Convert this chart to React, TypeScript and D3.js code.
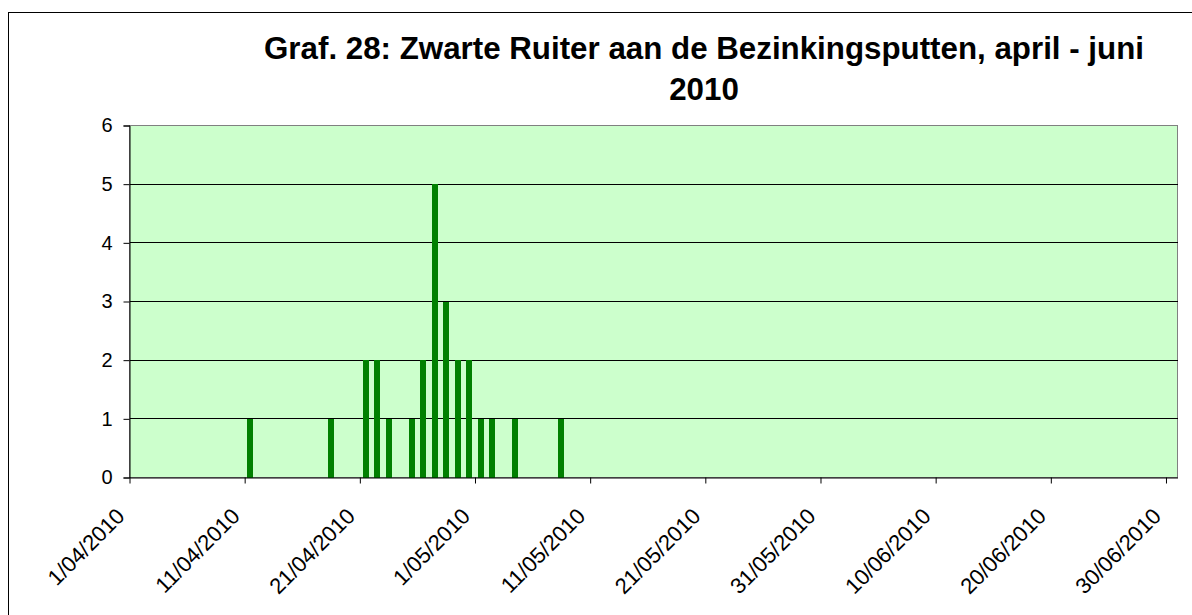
import React, { useEffect, useRef } from 'react';
import * as d3 from 'd3';

// observation dates and counts
const dates = [
    "2010-04-11", "2010-04-18", "2010-04-21", "2010-04-22", "2010-04-23",
    "2010-04-25", "2010-04-26", "2010-04-27", "2010-04-28", "2010-04-29",
    "2010-04-30", "2010-05-01", "2010-05-02", "2010-05-04", "2010-05-08"
];
const counts = [1, 1, 2, 2, 1, 1, 2, 5, 3, 2, 2, 1, 1, 1, 1];

const tickLabels = [
    "1/04/2010", "11/04/2010", "21/04/2010", "1/05/2010", "11/05/2010",
    "21/05/2010", "31/05/2010", "10/06/2010", "20/06/2010", "30/06/2010"
];
const yTicks = [0, 1, 2, 3, 4, 5, 6];

const titleLines = ["Graf. 28: Zwarte Ruiter aan de Bezinkingsputten, april - juni", "2010"];

const FONT = "'Liberation Sans', Arial, sans-serif";

export default function App() {
    const ref = useRef<SVGSVGElement>(null);

    useEffect(() => {
        const width = 1192, height = 615;
        const plot = { left: 129.5, right: 1177.5, top: 125.5, bottom: 477.5 };

        const svg = d3.select(ref.current);
        svg.selectAll("*").remove();

        const parseDay = d3.utcParse("%Y-%m-%d");
        const parseLabel = d3.utcParse("%d/%m/%Y");

        const x = d3.scaleUtc()
            .domain([Date.UTC(2010, 3, 1), Date.UTC(2010, 6, 1)])
            .range([plot.left, plot.right]);
        const y = d3.scaleLinear()
            .domain([0, 6])
            .range([plot.bottom, plot.top]);

        const dayW = x(Date.UTC(2010, 3, 2)) - x(Date.UTC(2010, 3, 1));
        const barW = 6;

        // chart area border
        svg.append("rect")
            .attr("x", 8.5).attr("y", 12.5)
            .attr("width", width + 100).attr("height", height + 100)
            .attr("fill", "white").attr("stroke", "black");

        // title
        svg.append("g").selectAll("text").data(titleLines).enter().append("text")
            .attr("x", 704)
            .attr("y", (d, i) => 59 + i * 41)
            .attr("text-anchor", "middle")
            .attr("font-family", FONT)
            .attr("font-weight", "bold")
            .attr("font-size", 31.3)
            .attr("fill", "black")
            .text(d => d);

        // plot area
        svg.append("rect")
            .attr("x", plot.left).attr("y", plot.top)
            .attr("width", plot.right - plot.left).attr("height", plot.bottom - plot.top)
            .attr("fill", "#CCFFCC").attr("stroke", "#808080");

        // gridlines
        svg.append("g").selectAll("line").data(yTicks.filter(v => v > 0 && v < 6)).enter().append("line")
            .attr("x1", plot.left).attr("x2", plot.right)
            .attr("y1", d => y(d)).attr("y2", d => y(d))
            .attr("stroke", "black").attr("shape-rendering", "crispEdges");

        // bars
        const data = dates.map((d, i) => ({ date: parseDay(d) as Date, value: counts[i] }));
        svg.append("g").selectAll("rect").data(data).enter().append("rect")
            .attr("x", d => x(d.date) + dayW / 2 - barW / 2)
            .attr("y", d => y(d.value))
            .attr("width", barW)
            .attr("height", d => y(0) - y(d.value))
            .attr("fill", "#008000")
            .attr("shape-rendering", "crispEdges");

        // y axis
        const gy = svg.append("g").attr("transform", `translate(${plot.left},0)`)
            .call(d3.axisLeft(y).tickValues(yTicks).tickSize(6).tickPadding(11).tickFormat(d3.format("d")));
        gy.select(".domain").attr("stroke", "black");
        gy.selectAll("line").attr("stroke", "black");
        gy.selectAll("text").attr("font-family", FONT).attr("font-size", 20).attr("fill", "black");

        // x axis
        const tickDates = tickLabels.map(t => parseLabel(t) as Date);
        const gx = svg.append("g").attr("transform", `translate(0,${plot.bottom})`)
            .call(d3.axisBottom(x).tickValues(tickDates).tickSize(6).tickSizeOuter(0).tickFormat((d, i) => tickLabels[i]));
        gx.select(".domain").attr("stroke", "black");
        gx.selectAll("line").attr("stroke", "black");
        gx.selectAll("text")
            .attr("font-family", FONT).attr("font-size", 22).attr("fill", "black")
            .attr("text-anchor", "end")
            .attr("dy", null)
            .attr("y", 0)
            .attr("transform", "translate(-4,40) rotate(-45)");
    }, []);

    return (
        <svg ref={ref} width={1192} height={615}
            style={{ position: 'absolute', left: 0, top: 0, background: 'white' }} />
    );
}
